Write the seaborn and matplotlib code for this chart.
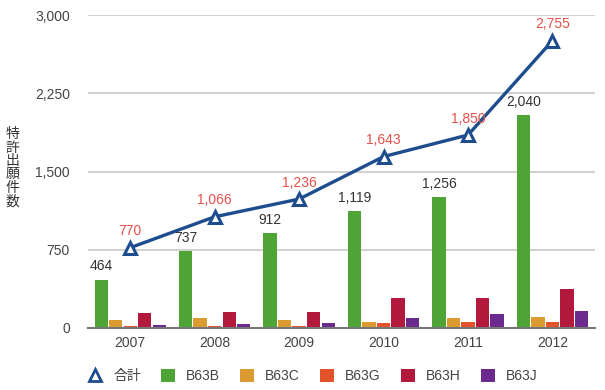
import matplotlib
matplotlib.use("Agg")
import matplotlib.pyplot as plt
import seaborn as sns
import pandas as pd
from matplotlib.lines import Line2D
from matplotlib.patches import Patch

years = ["2007", "2008", "2009", "2010", "2011", "2012"]
total = [770, 1066, 1236, 1643, 1850, 2755]
b63b = [464, 737, 912, 1119, 1256, 2040]
b63c = [77, 95, 80, 60, 100, 105]
b63g = [20, 15, 20, 45, 60, 60]
b63h = [145, 155, 155, 290, 290, 375]
b63j = [30, 35, 50, 100, 130, 160]
series_names = ["B63B", "B63C", "B63G", "B63H", "B63J"]
total_name = "合計"
ylabel = "特許出願件数"
yticks = [0, 750, 1500, 2250, 3000]

colors = ["#4ea535", "#dc9b30", "#e2532b", "#b3183d", "#6b2a8e"]
line_color = "#1d4d8e"
label_red = "#e8504a"

sns.set_theme(style="white")
plt.rcParams['font.family'] = ['Liberation Sans', 'Noto Sans CJK JP', 'DejaVu Sans']

rows = []
for name, vals in zip(series_names, [b63b, b63c, b63g, b63h, b63j]):
    for y, v in zip(years, vals):
        rows.append({"year": y, "series": name, "value": v})
df = pd.DataFrame(rows)

fig = plt.figure(figsize=(6.05, 3.9), dpi=100)
ax = fig.add_axes([0.1455, 0.159, 0.8375, 0.8025])

sns.barplot(data=df, x="year", y="value", hue="series", palette=colors,
            width=0.86, gap=0.08, ax=ax, legend=False, saturation=1,
            edgecolor="none")

sns.pointplot(x=years, y=total, color=line_color, markers="^",
              linestyles="-", ax=ax, markersize=9, linewidth=2.4,
              markerfacecolor="white", markeredgewidth=2.2)

ax.set_ylim(0, 3000)
ax.set_yticks(yticks)
ax.set_yticklabels([f"{t:,}" for t in yticks], fontsize=10, color="#444444")
ax.tick_params(axis="x", labelsize=10, colors="#444444", length=0, pad=6)
ax.tick_params(axis="y", length=0, pad=13)
ax.set_xlabel("")
ax.set_ylabel("")
ax.yaxis.grid(True, color="#c8c8c8", linewidth=1.2)
ax.set_axisbelow(True)
for s in ["top", "right", "left"]:
    ax.spines[s].set_visible(False)
ax.spines["bottom"].set_color("#777777")
ax.spines["bottom"].set_linewidth(1.5)

# B63B labels
green_bars = ax.containers[0]
for bar, v in zip(green_bars, b63b):
    ax.text(bar.get_x() + bar.get_width() / 2, v + 60, f"{v:,}",
            ha="center", va="bottom", fontsize=10, color="#333333")

for i, v in enumerate(total):
    ax.text(i, v + 90, f"{v:,}", ha="center", va="bottom", fontsize=10,
            color=label_red)

fig.text(0.02, 0.57, "\n".join(ylabel), fontsize=10, color="#333333",
         ha="center", va="center", linespacing=0.95,
         family=['Noto Sans CJK JP'])

handles = [Line2D([], [], color=line_color, marker="^", linestyle="none",
                  markerfacecolor="white", markeredgewidth=2, markersize=8)]
handles += [Patch(facecolor=c, edgecolor="none") for c in colors]
labels = [total_name] + series_names
fig.legend(handles, labels, loc="lower left", bbox_to_anchor=(0.125, -0.015),
           ncol=6, frameon=False, fontsize=10, handlelength=1.0,
           handleheight=1.0, columnspacing=1.45, handletextpad=0.8,
           labelcolor="#444444")

fig.savefig("out.png", dpi=100)
